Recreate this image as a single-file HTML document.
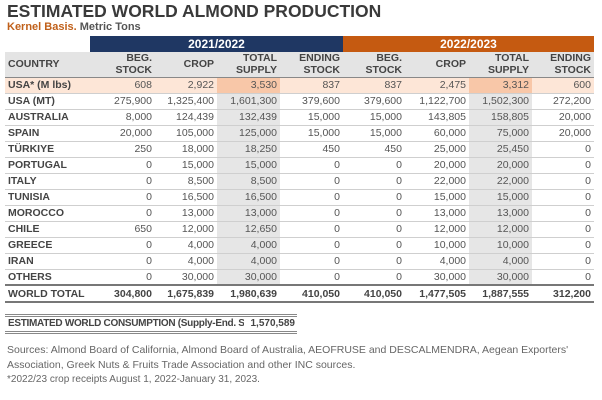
<!DOCTYPE html>
<html><head><style>
*{margin:0;padding:0;box-sizing:border-box}
body{width:602px;height:400px;background:#fff;font-family:"Liberation Sans",Arial,sans-serif;position:relative;overflow:hidden;color:#444}
.t{position:absolute;left:7px;top:1px;font-size:17.5px;font-weight:bold;color:#3a3a3a}
.s{position:absolute;left:7px;top:21px;font-size:11px;font-weight:bold;color:#555}
.s b{color:#c0601a}
table{position:absolute;left:5px;top:36px;border-collapse:collapse;font-size:10.5px;table-layout:fixed}
td{height:16px;padding:0 3px 0 3px;text-align:right;border-bottom:1px solid #cfcfcf;color:#555;white-space:nowrap;overflow:hidden}
td:first-child{text-align:left;font-weight:bold;color:#444}
tr.y td{height:16px;border:none;text-align:center;font-weight:bold;font-size:12px;color:#fff}
tr.h td{height:25px;background:#e4e4e4;font-weight:bold;color:#444;line-height:12px;vertical-align:middle;border-bottom:1px solid #888}
tr.u td{background:#fde6d7}
tr.u td.ts{background:#f8c7a8}
td.ts{background:#e6e6e6}
tr.w td{font-weight:bold;color:#444;border-top:2px solid #777;border-bottom:2px solid #777;height:17px}
tr.w td.ts{background:#fff}
.c{position:absolute;left:5px;top:314px;width:292px;height:20px;border-top:3px double #888;border-bottom:3px double #888;font-size:10px;font-weight:bold;color:#444;line-height:14px;padding-left:3px}
.c .l{position:absolute;left:3px;top:0;width:236px;overflow:hidden;white-space:nowrap;letter-spacing:-0.3px}
.c span.r{position:absolute;right:2px;top:0}
.f{position:absolute;left:7px;top:343px;font-size:10.5px;color:#666;line-height:14.5px;width:590px}
</style></head><body>
<div class="t">ESTIMATED WORLD ALMOND PRODUCTION</div>
<div class="s"><b>Kernel Basis.</b> Metric Tons</div>
<table>
<colgroup><col style="width:85px"><col style="width:65px"><col style="width:62px"><col style="width:63px"><col style="width:63px"><col style="width:62px"><col style="width:64px"><col style="width:63px"><col style="width:62px"></colgroup>
<tr class="y"><td style="background:#fff"></td><td colspan="4" style="background:#1f3763;text-align:center">2021/2022</td><td colspan="4" style="background:#c55a11;text-align:center">2022/2023</td></tr>
<tr class="h"><td>COUNTRY</td><td>BEG.<br>STOCK</td><td>CROP</td><td>TOTAL<br>SUPPLY</td><td>ENDING<br>STOCK</td><td>BEG.<br>STOCK</td><td>CROP</td><td>TOTAL<br>SUPPLY</td><td>ENDING<br>STOCK</td></tr>
<tr class="u"><td>USA* (M lbs)</td><td>608</td><td>2,922</td><td class="ts">3,530</td><td>837</td><td>837</td><td>2,475</td><td class="ts">3,312</td><td>600</td></tr>
<tr><td>USA (MT)</td><td>275,900</td><td>1,325,400</td><td class="ts">1,601,300</td><td>379,600</td><td>379,600</td><td>1,122,700</td><td class="ts">1,502,300</td><td>272,200</td></tr>
<tr><td>AUSTRALIA</td><td>8,000</td><td>124,439</td><td class="ts">132,439</td><td>15,000</td><td>15,000</td><td>143,805</td><td class="ts">158,805</td><td>20,000</td></tr>
<tr><td>SPAIN</td><td>20,000</td><td>105,000</td><td class="ts">125,000</td><td>15,000</td><td>15,000</td><td>60,000</td><td class="ts">75,000</td><td>20,000</td></tr>
<tr><td>TÜRKIYE</td><td>250</td><td>18,000</td><td class="ts">18,250</td><td>450</td><td>450</td><td>25,000</td><td class="ts">25,450</td><td>0</td></tr>
<tr><td>PORTUGAL</td><td>0</td><td>15,000</td><td class="ts">15,000</td><td>0</td><td>0</td><td>20,000</td><td class="ts">20,000</td><td>0</td></tr>
<tr><td>ITALY</td><td>0</td><td>8,500</td><td class="ts">8,500</td><td>0</td><td>0</td><td>22,000</td><td class="ts">22,000</td><td>0</td></tr>
<tr><td>TUNISIA</td><td>0</td><td>16,500</td><td class="ts">16,500</td><td>0</td><td>0</td><td>15,000</td><td class="ts">15,000</td><td>0</td></tr>
<tr><td>MOROCCO</td><td>0</td><td>13,000</td><td class="ts">13,000</td><td>0</td><td>0</td><td>13,000</td><td class="ts">13,000</td><td>0</td></tr>
<tr><td>CHILE</td><td>650</td><td>12,000</td><td class="ts">12,650</td><td>0</td><td>0</td><td>12,000</td><td class="ts">12,000</td><td>0</td></tr>
<tr><td>GREECE</td><td>0</td><td>4,000</td><td class="ts">4,000</td><td>0</td><td>0</td><td>10,000</td><td class="ts">10,000</td><td>0</td></tr>
<tr><td>IRAN</td><td>0</td><td>4,000</td><td class="ts">4,000</td><td>0</td><td>0</td><td>4,000</td><td class="ts">4,000</td><td>0</td></tr>
<tr><td>OTHERS</td><td>0</td><td>30,000</td><td class="ts">30,000</td><td>0</td><td>0</td><td>30,000</td><td class="ts">30,000</td><td>0</td></tr>
<tr class="w"><td>WORLD TOTAL</td><td>304,800</td><td>1,675,839</td><td class="ts">1,980,639</td><td>410,050</td><td>410,050</td><td>1,477,505</td><td class="ts">1,887,555</td><td>312,200</td></tr>
</table>
<div class="c"><span class="l">ESTIMATED WORLD CONSUMPTION (Supply-End. Sto</span><span class="r">1,570,589</span></div>
<div class="f">Sources: Almond Board of California, Almond Board of Australia, AEOFRUSE and DESCALMENDRA, Aegean Exporters' Association, Greek Nuts &amp; Fruits Trade Association and other INC sources.<br><span style="font-size:10px">*2022/23 crop receipts August 1, 2022-January 31, 2023.</span></div>
</body></html>
